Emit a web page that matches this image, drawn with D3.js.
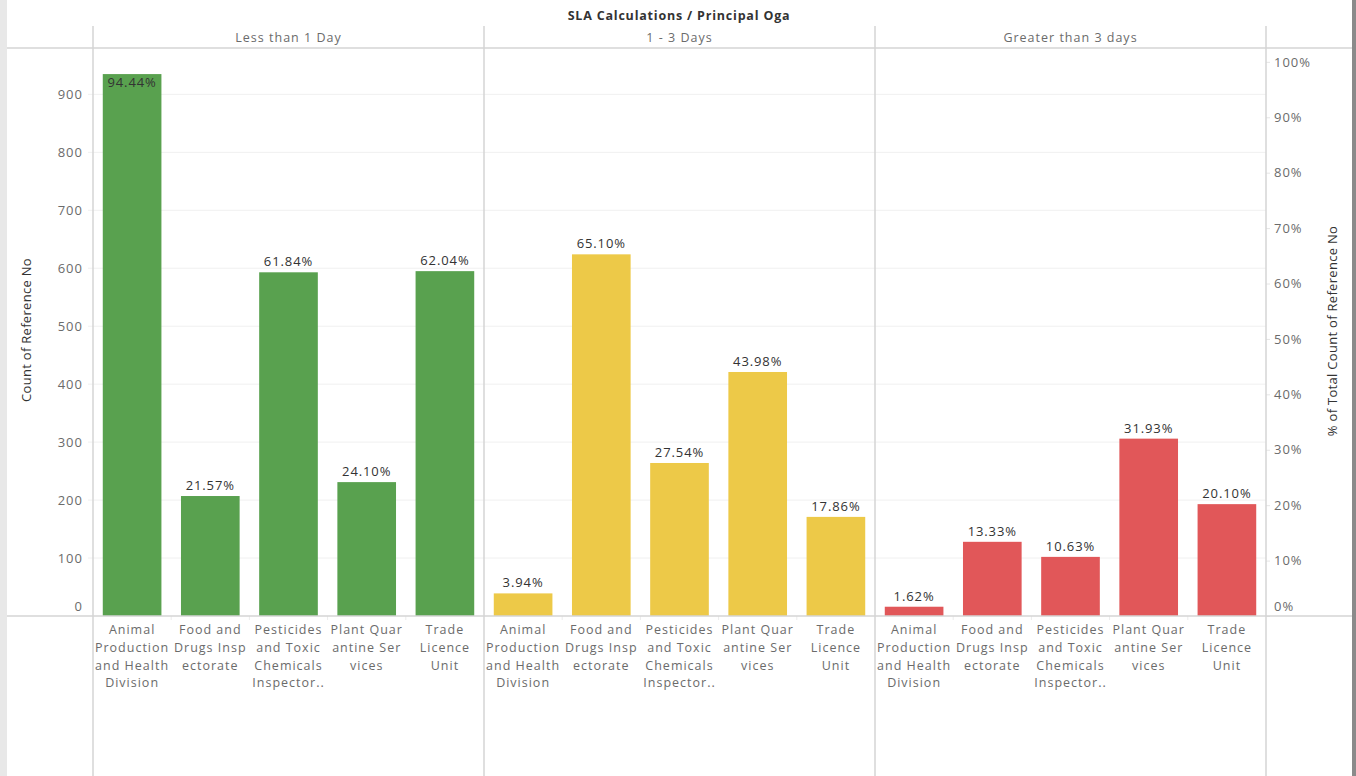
<!DOCTYPE html>
<html>
<head>
<meta charset="utf-8">
<script src="https://cdn.jsdelivr.net/npm/d3@7"></script>
<style>
  body { margin: 0; background: #fff; }
  text { font-family: "Open Sans", sans-serif; }
</style>
</head>
<body>
<div id="chart"></div>
<script>
// SLA bins (column panes) and the OGAs inside each pane
var slaBins = ["Less than 1 Day", "1 - 3 Days", "Greater than 3 days"];
var ogas = ["Animal Production and Health Division", "Food and Drugs Inspectorate",
	"Pesticides and Toxic Chemicals Inspectorate", "Plant Quarantine Services", "Trade Licence Unit"];
var ogaLabels = [
	["Animal", "Production", "and Health", "Division"],
	["Food and", "Drugs Insp", "ectorate"],
	["Pesticides", "and Toxic", "Chemicals", "Inspector.."],
	["Plant Quar", "antine Ser", "vices"],
	["Trade", "Licence", "Unit"]
];

// count of reference no, per bin
var countLessThan1 = [935, 207, 593, 231, 595];
var count1to3 = [39, 624, 264, 421, 171];
var countOver3 = [16, 128, 102, 306, 193];

// % of total count of reference no (labels), per bin
var pctLessThan1 = [94.44, 21.57, 61.84, 24.10, 62.04];
var pct1to3 = [3.94, 65.10, 27.54, 43.98, 17.86];
var pctOver3 = [1.62, 13.33, 10.63, 31.93, 20.10];

var countTicks = [0, 100, 200, 300, 400, 500, 600, 700, 800, 900];
var pctTicks = [0, 0.1, 0.2, 0.3, 0.4, 0.5, 0.6, 0.7, 0.8, 0.9, 1.0];
var binColors = ["#59a14f", "#edc948", "#e15759"];

var counts = [countLessThan1, count1to3, countOver3];
var pcts = [pctLessThan1, pct1to3, pctOver3];

var width = 1356, height = 776;
var left = 93, right = 1266, paneTop = 48, base = 616, headerTop = 26;
var borderCol = "#d4d4d4", gridCol = "#f0f0f0", labelCol = "#6b6b6b";

var svg = d3.select("#chart")
	.append("svg")
		.attr("width", width)
		.attr("height", height);

// frame strips on the edges
svg.append("rect").attr("x", 0).attr("y", 0).attr("width", 7).attr("height", height).attr("fill", "#e8e8e8");
svg.append("rect").attr("x", 1352).attr("y", 0).attr("width", 4).attr("height", height).attr("fill", "#8a8a8a");

var xPane = d3.scaleBand().domain(slaBins).range([left, right]);
var xOga = d3.scaleBand().domain(ogas).range([0, xPane.bandwidth()]);
var yCount = d3.scaleLinear().domain([0, 980]).range([base, paneTop]);
var yPct = d3.scaleLinear().domain([0, 1.025]).range([base, paneTop]);

// gridlines
svg.append("g")
	.selectAll("line")
	.data(countTicks.slice(1))
	.enter()
		.append("line")
		.attr("x1", left - 5)
		.attr("x2", right)
		.attr("y1", d => yCount(d))
		.attr("y2", d => yCount(d))
		.attr("stroke", gridCol)
		.attr("stroke-width", 1);

// title
svg.append("text")
	.attr("x", 679)
	.attr("y", 20)
	.attr("text-anchor", "middle")
	.attr("font-size", 12.5)
	.attr("letter-spacing", 0.8)
	.attr("font-weight", "bold")
	.attr("fill", "#333")
	.text("SLA Calculations / Principal Oga");

// pane headers
svg.append("g")
	.selectAll("text")
	.data(slaBins)
	.enter()
		.append("text")
		.attr("x", d => xPane(d) + xPane.bandwidth() / 2)
		.attr("y", 42)
		.attr("text-anchor", "middle")
		.attr("font-size", 12.5)
		.attr("letter-spacing", 1)
		.attr("fill", labelCol)
		.text(d => d);

// bars + labels per pane
slaBins.forEach(function(bin, b) {
	var g = svg.append("g").attr("transform", "translate(" + xPane(bin) + ",0)");
	var bw = xOga.bandwidth() * 0.75;
	var rows = ogas.map((o, i) => ({oga: o, count: counts[b][i], pct: pcts[b][i], label: ogaLabels[i]}));

	g.selectAll("rect")
		.data(rows)
		.enter()
			.append("rect")
			.attr("x", d => xOga(d.oga) + (xOga.bandwidth() - bw) / 2)
			.attr("width", bw)
			.attr("y", d => yCount(d.count))
			.attr("height", d => base - yCount(d.count))
			.attr("fill", binColors[b]);

	g.selectAll("text.val")
		.data(rows)
		.enter()
			.append("text")
			.attr("class", "val")
			.attr("x", d => xOga(d.oga) + xOga.bandwidth() / 2)
			.attr("y", d => {
				var top = yCount(d.count);
				return top - paneTop < 40 ? top + 12.5 : top - 6;
			})
			.attr("text-anchor", "middle")
			.attr("font-size", 13)
			.attr("letter-spacing", 0.9)
			.attr("fill", "#333")
			.text(d => d3.format(".2f")(d.pct) + "%");

	// category labels
	var cat = g.selectAll("text.cat")
		.data(rows)
		.enter()
			.append("text")
			.attr("class", "cat")
			.attr("text-anchor", "middle")
			.attr("font-size", 12.5)
			.attr("letter-spacing", 1)
			.attr("fill", labelCol);
	cat.selectAll("tspan")
		.data(d => d.label.map(t => ({t: t, x: xOga(d.oga) + xOga.bandwidth() / 2})))
		.enter()
			.append("tspan")
			.attr("x", d => d.x)
			.attr("y", (d, i) => base + 18 + i * 17.8)
			.text(d => d.t);

	// small ticks between categories
	g.selectAll("line.sep")
		.data(ogas.slice(1))
		.enter()
			.append("line")
			.attr("x1", d => xOga(d))
			.attr("x2", d => xOga(d))
			.attr("y1", base)
			.attr("y2", base + 4)
			.attr("stroke", "#ececec");
});

// left axis
var leftAxis = svg.append("g")
	.attr("transform", "translate(" + left + ",0)")
	.call(d3.axisLeft(yCount).tickValues(countTicks).tickSize(0).tickPadding(10));
leftAxis.select(".domain").remove();
leftAxis.selectAll("text")
	.attr("font-family", "Open Sans, sans-serif")
	.attr("font-size", 13)
	.attr("letter-spacing", 1)
	.attr("fill", labelCol)
	.attr("dy", d => d === 0 ? "-0.45em" : "0.32em");

// right axis
var rightAxis = svg.append("g")
	.attr("transform", "translate(" + right + ",0)")
	.call(d3.axisRight(yPct).tickValues(pctTicks).tickSize(4).tickPadding(4).tickFormat(d3.format(".0%")));
rightAxis.select(".domain").remove();
rightAxis.selectAll("line").attr("stroke", "#e6e6e6");
rightAxis.selectAll("text")
	.attr("font-family", "Open Sans, sans-serif")
	.attr("font-size", 13)
	.attr("letter-spacing", 1)
	.attr("fill", labelCol)
	.attr("dy", d => d === 0 ? "-0.45em" : "0.32em");

// axis titles
svg.append("text")
	.attr("transform", "translate(31,330) rotate(-90)")
	.attr("text-anchor", "middle")
	.attr("font-size", 13)
	.attr("letter-spacing", 0.3)
	.attr("fill", "#333")
	.text("Count of Reference No");
svg.append("text")
	.attr("transform", "translate(1337,331) rotate(-90)")
	.attr("text-anchor", "middle")
	.attr("font-size", 13)
	.attr("letter-spacing", 0.3)
	.attr("fill", "#333")
	.text("% of Total Count of Reference No");

// borders
svg.append("line").attr("x1", 7).attr("x2", 1352).attr("y1", paneTop).attr("y2", paneTop)
	.attr("stroke", borderCol).attr("stroke-width", 1.5);
svg.append("line").attr("x1", 7).attr("x2", 1352).attr("y1", base).attr("y2", base)
	.attr("stroke", borderCol).attr("stroke-width", 1.5);
svg.append("g")
	.selectAll("line")
	.data(xPane.domain().map(d => xPane(d)).concat([right]))
	.enter()
		.append("line")
		.attr("x1", d => d)
		.attr("x2", d => d)
		.attr("y1", headerTop)
		.attr("y2", height)
		.attr("stroke", borderCol)
		.attr("stroke-width", 1.5);
</script>
</body>
</html>
